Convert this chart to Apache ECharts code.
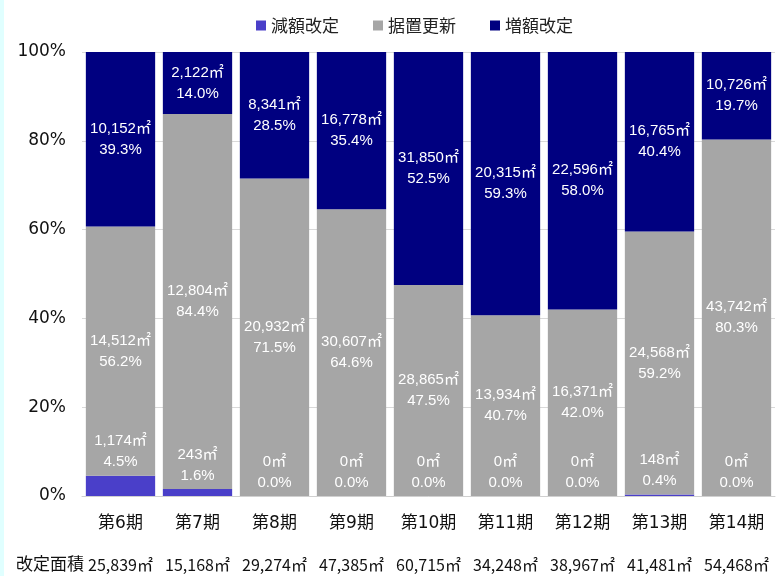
<!DOCTYPE html>
<html>
<head>
<meta charset="utf-8">
<script src="https://cdn.jsdelivr.net/npm/echarts@6/dist/echarts.min.js"></script>
<style>
  html, body { margin: 0; padding: 0; background: #fff; }
  #chart { width: 782px; height: 576px; }
</style>
</head>
<body>
<div id="chart"></div>
<script>
// 改定区分ごとの面積 (㎡)
const periods = ['第6期', '第7期', '第8期', '第9期', '第10期', '第11期', '第12期', '第13期', '第14期'];
const decreaseArea = [1174, 243, 0, 0, 0, 0, 0, 148, 0];
const flatArea = [14512, 12804, 20932, 30607, 28865, 13934, 16371, 24568, 43742];
const increaseArea = [10152, 2122, 8341, 16778, 31850, 20315, 22596, 16765, 10726];
const totalArea = [25839, 15168, 29274, 47385, 60715, 34248, 38967, 41481, 54468];
const yTicks = [0, 20, 40, 60, 80, 100];

const fmt = n => n.toLocaleString('en-US');
const pct = arr => arr.map((v, i) => v / totalArea[i] * 100);

const chart = echarts.init(document.getElementById('chart'));

const labelStyle = (areas, position) => ({
    show: true,
    position: position,
    distance: 3,
    color: '#fff',
    fontFamily: '"Liberation Sans", Arial, "Noto Sans CJK JP"',
    fontSize: 15,
    lineHeight: 21,
    formatter: p => fmt(areas[p.dataIndex]) + '㎡\n' + p.value.toFixed(1) + '%'
});

chart.setOption({
    animation: false,
    textStyle: { fontFamily: '"DejaVu Sans", "Noto Sans CJK JP"' },
    legend: {
        left: 251, top: 12,
        itemWidth: 10, itemHeight: 10, itemGap: 34,
        icon: 'rect',
        textStyle: { fontSize: 17, color: '#222', fontFamily: '"Noto Sans CJK JP"' },
        data: ['減額改定', '据置更新', '増額改定']
    },
    grid: { left: 82, right: 7, top: 52, bottom: 80 },
    xAxis: [{
        type: 'category',
        data: periods,
        axisLine: { lineStyle: { color: '#d0d0d0' } },
        axisTick: { show: false },
        axisLabel: { interval: 0, color: '#111', fontSize: 17, margin: 19, fontFamily: '"DejaVu Sans", "Noto Sans CJK JP"' }
    }, {
        type: 'category',
        position: 'bottom',
        offset: 44,
        data: totalArea.map(v => fmt(v) + '㎡'),
        axisLine: { show: false },
        axisTick: { show: false },
        axisLabel: { interval: 0, hideOverlap: false, color: '#111', fontSize: 16, margin: 17, fontFamily: '"Noto Sans CJK JP"' }
    }],
    yAxis: {
        type: 'value',
        min: 0, max: 100, interval: 20,
        axisLine: { show: false },
        axisTick: { show: false },
        axisLabel: {
            color: '#111', fontSize: 17, margin: 16,
            formatter: v => yTicks.includes(v) ? v + '%' : ''
        },
        splitLine: { lineStyle: { color: '#d9d9d9' } }
    },
    series: [{
        name: '減額改定', type: 'bar', stack: 'a',
        barCategoryGap: '10%',
        itemStyle: { color: '#4a3fc9' },
        data: pct(decreaseArea),
        label: labelStyle(decreaseArea, 'top')
    }, {
        name: '据置更新', type: 'bar', stack: 'a',
        itemStyle: { color: '#a6a6a6' },
        data: pct(flatArea),
        label: labelStyle(flatArea, 'inside')
    }, {
        name: '増額改定', type: 'bar', stack: 'a',
        itemStyle: { color: '#000080' },
        data: pct(increaseArea),
        label: labelStyle(increaseArea, 'inside')
    }],
    graphic: [
        { type: 'rect', left: 0, top: 0, shape: { width: 4, height: 576 }, style: { fill: '#e0ffff' } },
        { type: 'text', left: 16, top: 555, style: { text: '改定面積', fill: '#111', fontSize: 17, fontFamily: '"Noto Sans CJK JP"' } }
    ]
});
</script>
</body>
</html>
